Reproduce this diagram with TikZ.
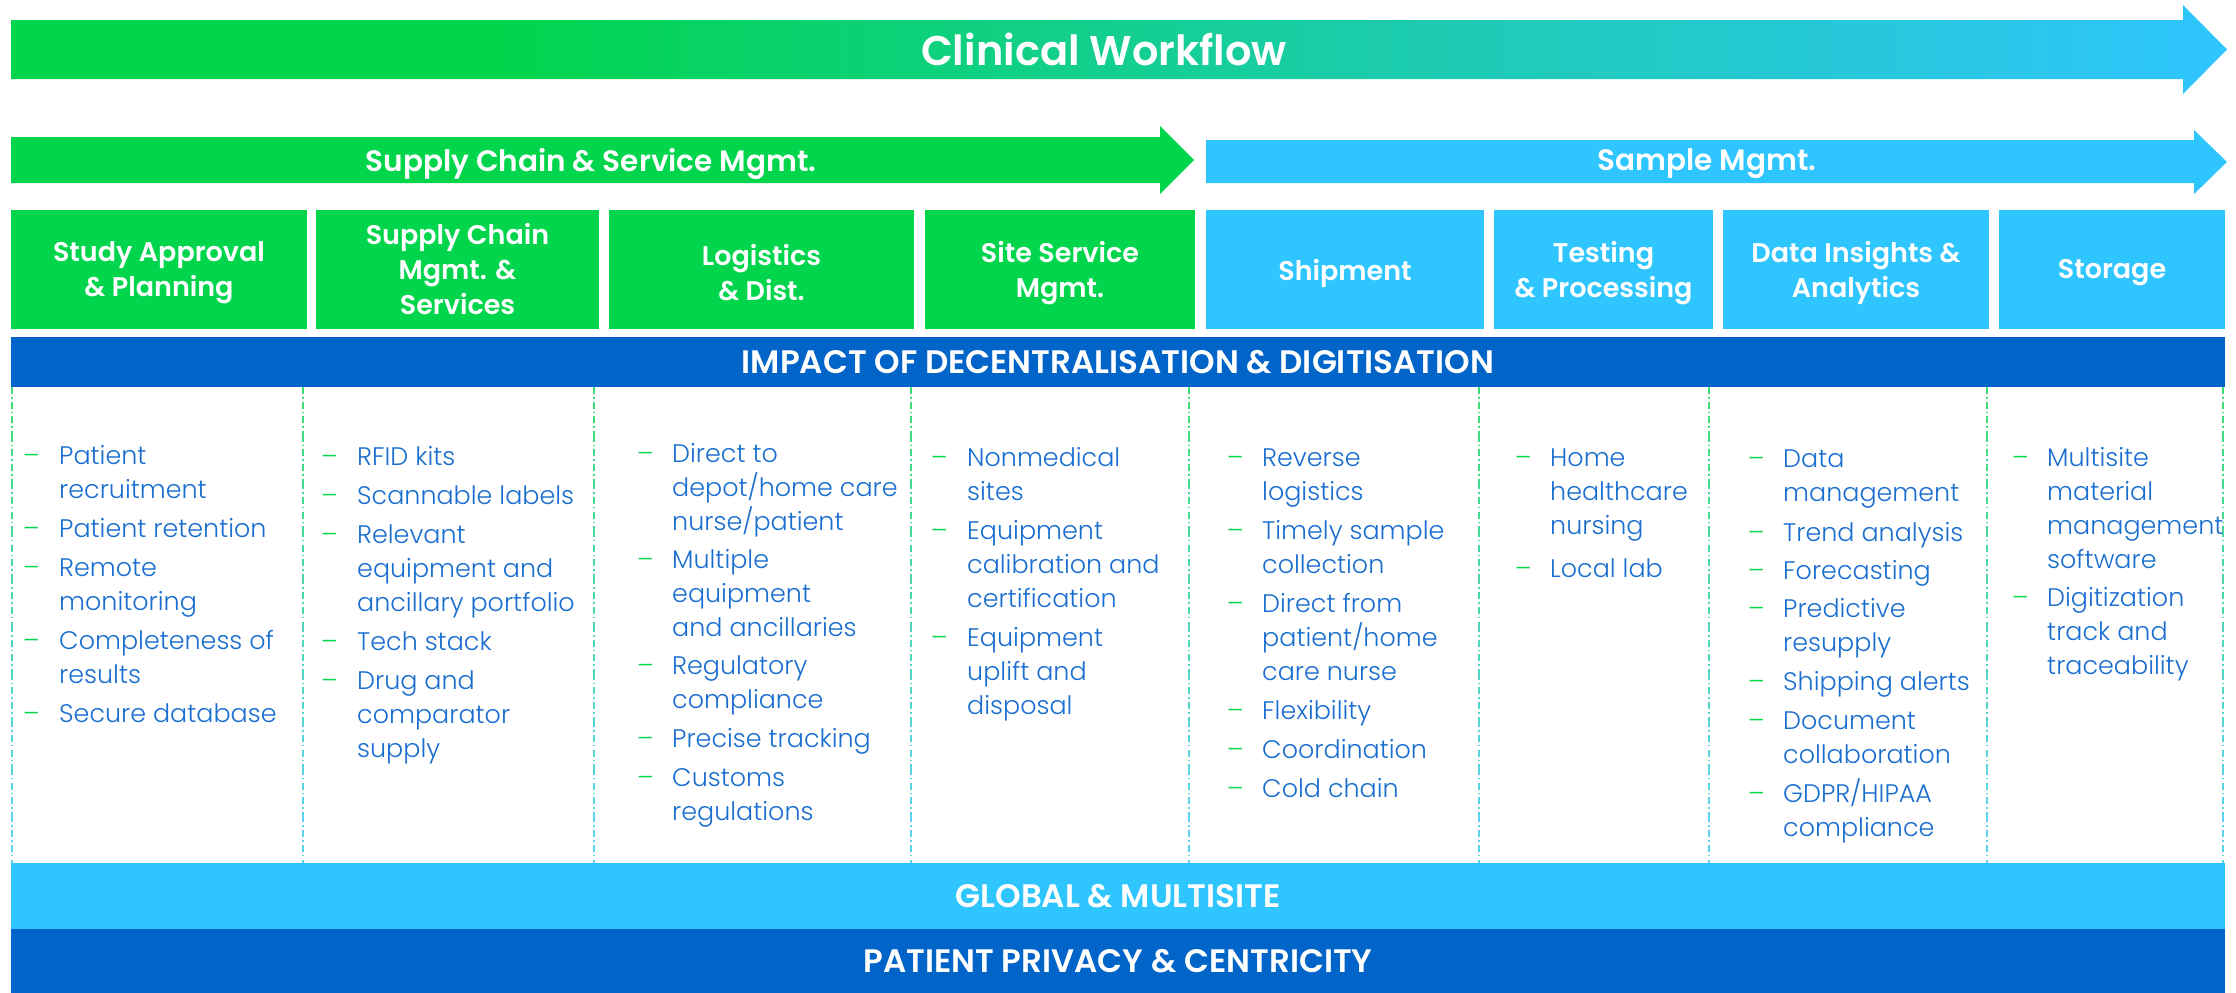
\documentclass[tikz,border=0pt]{standalone}
\usepackage{fontspec}
\setmainfont{Poppins}
\newfontfamily\lightfont{Poppins Light}
\newfontfamily\headfont{Poppins SemiBold}
\usepackage{array}
\definecolor{cgreen}{HTML}{00D54C}
\definecolor{clight}{HTML}{2FC5FF}
\definecolor{cdark}{HTML}{0064C8}
\definecolor{cteal}{HTML}{1CCCAD}
\definecolor{ctext}{HTML}{1A6ECF}
\definecolor{sepgreen}{HTML}{3DDC78}
\definecolor{sepcyan}{HTML}{5CD3F2}
\pgfdeclarehorizontalshading{cwshade}{100bp}{color(0bp)=(cgreen); color(36bp)=(cgreen); color(56bp)=(cteal); color(75bp)=(clight); color(100bp)=(clight)}
\newcommand\itm{\textcolor{cgreen}{\textendash}}
\begin{document}
\begin{tikzpicture}[x=1pt,y=-1pt,
  hbox/.style={fill=#1, inner sep=0pt, minimum height=119pt},
  hlab/.style={text=white, font=\headfont\fontsize{27}{35}\selectfont, align=center, inner sep=0pt},
  arrowlab/.style={text=white, font=\headfont\fontsize{29.5}{35}\selectfont, inner sep=0pt},
  band/.style={fill=#1, text=white, font=\headfont\fontsize{32.5}{38}\selectfont, inner sep=0pt, minimum width=2214pt},
  col/.style={anchor=base west, inner sep=0pt, text=ctext, font=\lightfont\fontsize{25.4}{34}\selectfont}
]
\useasboundingbox (0,0) rectangle (2236,993);

% top arrow
\shade[shading=cwshade] (11,20) -- (2183,20) -- (2183,5) -- (2227,49.5) -- (2183,94) -- (2183,79) -- (11,79) -- cycle;
\node[arrowlab, font=\headfont\fontsize{41.5}{50}\selectfont] (cw) at (1104,49.5) {Clinical Workflow};

% second row arrows
\fill[cgreen] (11,137) -- (1160,137) -- (1160,126) -- (1194,160) -- (1160,194) -- (1160,183) -- (11,183) -- cycle;
\node[arrowlab] (scs) at (591,163.5) {Supply Chain \& Service Mgmt.};
\fill[clight] (1206,140) -- (2194,140) -- (2194,130) -- (2227,162) -- (2194,194) -- (2194,183) -- (1206,183) -- cycle;
\node[arrowlab] (sm) at (1707,164) {Sample Mgmt.};

% header boxes
\node[hbox=cgreen, minimum width=296pt] (h1) at (159,269.5) {};
\node[hbox=cgreen, minimum width=283pt] (h2) at (457.5,269.5) {};
\node[hbox=cgreen, minimum width=305pt] (h3) at (761.5,269.5) {};
\node[hbox=cgreen, minimum width=270pt] (h4) at (1060,269.5) {};
\node[hbox=clight, minimum width=278pt] (h5) at (1345,269.5) {};
\node[hbox=clight, minimum width=219pt] (h6) at (1603.5,269.5) {};
\node[hbox=clight, minimum width=266pt] (h7) at (1856,269.5) {};
\node[hbox=clight, minimum width=226pt] (h8) at (2112,269.5) {};
\node[hlab] (h1t) at ([yshift=-3.5pt]h1.center) {Study Approval\\\& Planning};
\node[hlab] (h2t) at ([yshift=0pt]h2.center) {Supply Chain\\Mgmt. \&\\Services};
\node[hlab] (h3t) at ([yshift=-3.5pt]h3.center) {Logistics\\\& Dist.};
\node[hlab] (h4t) at ([yshift=-3.5pt]h4.center) {Site Service\\Mgmt.};
\node[hlab] (h5t) at ([yshift=-3.5pt]h5.center) {Shipment};
\node[hlab] (h6t) at ([yshift=-3.5pt]h6.center) {Testing\\\& Processing};
\node[hlab] (h7t) at ([yshift=-3.5pt]h7.center) {Data Insights \&\\Analytics};
\node[hlab] (h8t) at ([yshift=-3.5pt]h8.center) {Storage};

% bands
\node[band=cdark, minimum height=50pt] (impact) at (1118,362) {IMPACT OF DECENTRALISATION \& DIGITISATION};
\node[band=clight, minimum height=66pt] (global) at (1118,896) {GLOBAL \& MULTISITE};
\node[band=cdark, minimum height=64pt] (privacy) at (1118,961) {PATIENT PRIVACY \& CENTRICITY};

% separators
\foreach \sx in {12,303,594,911,1189,1479,1709,1987,2223}{
  \foreach \i in {0,...,9}{
    \pgfmathsetmacro\mix{100-\i*11}
    \draw[sepgreen!\mix!sepcyan, line width=1.5pt, dash pattern=on 7pt off 3pt on 1.5pt off 3.2pt]
      (\sx,{387+\i*47.6}) -- (\sx,{387+(\i+1)*47.6});
  }
}

% columns
\node[col] (c1) at (23,464) {\begin{tabular}[t]{@{}p{36pt}@{}l@{}}
\itm & Patient\\ & recruitment\\[5pt]
\itm & Patient retention\\[5pt]
\itm & Remote\\ & monitoring\\[5pt]
\itm & Completeness of\\ & results\\[5pt]
\itm & Secure database
\end{tabular}};
\node[col] (c2) at (321,465) {\begin{tabular}[t]{@{}p{36pt}@{}l@{}}
\itm & RFID kits\\[5pt]
\itm & Scannable labels\\[5pt]
\itm & Relevant\\ & equipment and\\ & ancillary portfolio\\[5pt]
\itm & Tech stack\\[5pt]
\itm & Drug and\\ & comparator\\ & supply
\end{tabular}};
\node[col] (c3) at (637,462) {\begin{tabular}[t]{@{}p{35pt}@{}l@{}}
\itm & Direct to\\ & depot/home care\\ & nurse/patient\\[4pt]
\itm & Multiple\\ & equipment\\ & and ancillaries\\[4pt]
\itm & Regulatory\\ & compliance\\[5pt]
\itm & Precise tracking\\[5pt]
\itm & Customs\\ & regulations
\end{tabular}};
\node[col] (c4) at (931,466) {\begin{tabular}[t]{@{}p{36pt}@{}l@{}}
\itm & Nonmedical\\ & sites\\[5pt]
\itm & Equipment\\ & calibration and\\ & certification\\[5pt]
\itm & Equipment\\ & uplift and\\ & disposal
\end{tabular}};
\node[col] (c5) at (1227,466) {\begin{tabular}[t]{@{}p{35pt}@{}l@{}}
\itm & Reverse\\ & logistics\\[5pt]
\itm & Timely sample\\ & collection\\[5pt]
\itm & Direct from\\ & patient/home\\ & care nurse\\[5pt]
\itm & Flexibility\\[5pt]
\itm & Coordination\\[5pt]
\itm & Cold chain
\end{tabular}};
\node[col] (c6) at (1515,466) {\begin{tabular}[t]{@{}p{35pt}@{}l@{}}
\itm & Home\\ & healthcare\\ & nursing\\[9pt]
\itm & Local lab
\end{tabular}};
\node[col] (c7) at (1748,467) {\begin{tabular}[t]{@{}p{35pt}@{}l@{}}
\itm & Data\\ & management\\[6pt]
\itm & Trend analysis\\[4pt]
\itm & Forecasting\\[4pt]
\itm & Predictive\\ & resupply\\[5pt]
\itm & Shipping alerts\\[5pt]
\itm & Document\\ & collaboration\\[5pt]
\itm & GDPR/HIPAA\\ & compliance
\end{tabular}};
\node[col] (c8) at (2012,466) {\begin{tabular}[t]{@{}p{35pt}@{}l@{}}
\itm & Multisite\\ & material\\ & management\\ & software\\[4pt]
\itm & Digitization\\ & track and\\ & traceability
\end{tabular}};
\end{tikzpicture}
\end{document}
